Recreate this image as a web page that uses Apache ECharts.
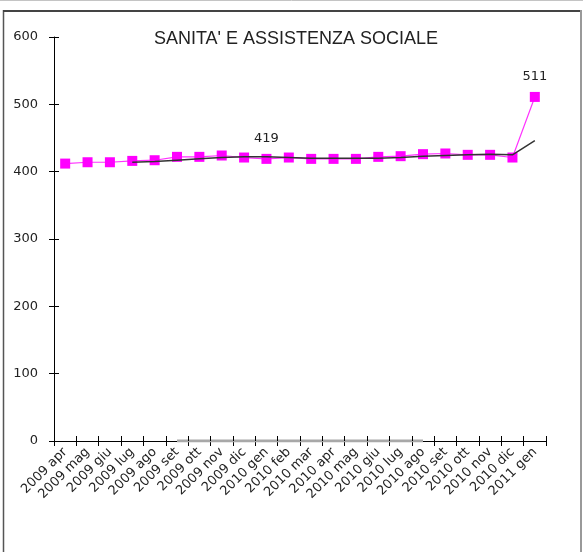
<!DOCTYPE html>
<html>
<head>
<meta charset="utf-8">
<script src="https://cdn.jsdelivr.net/npm/echarts@6/dist/echarts.min.js"></script>
<style>
html,body{margin:0;padding:0;background:#fff;}
#chart{width:583px;height:552px;}
</style>
</head>
<body>
<div id="chart"></div>
<script>
var titleText = "SANITA' E ASSISTENZA SOCIALE";
var categories = ["2009 apr","2009 mag","2009 giu","2009 lug","2009 ago","2009 set","2009 ott","2009 nov","2009 dic",
  "2010 gen","2010 feb","2010 mar","2010 apr","2010 mag","2010 giu","2010 lug","2010 ago","2010 set","2010 ott","2010 nov","2010 dic",
  "2011 gen"];
var seriesValues = [412,414,414,416,417,422,422,424,421,419,421,419,419,419,422,423,426,427,425,425,421,511];
var trendValues = [null,null,null,414,415,417,419,421,422,422,421,420,420,420,420,421,423,424,425,426,425,446];
var baseValues = [null,null,null,null,null,0,0,0,0,0,0,0,0,0,0,0,0,null,null,null,null,null];
var labeledIdx = [9,21];
var yTicks = [0,100,200,300,400,500,600];

var titleFont = "'Liberation Sans', Arial, sans-serif";
var font = "'DejaVu Sans', sans-serif";
var G = {left:54, right:37, top:37, bottom:111};
var chart = echarts.init(document.getElementById('chart'), null, {renderer:'canvas'});

var pinkData = seriesValues.map(function(v,i){
  if (labeledIdx.indexOf(i) >= 0) {
    return {value:v, label:{show:true, position:'top', distance:9, color:'#222', fontSize:13, fontFamily:font}};
  }
  return v;
});

var option = {
  animation:false,
  backgroundColor:'#fff',
  title:{
    text:titleText, left:291, top:25, textAlign:'center',
    textStyle:{fontSize:18, fontWeight:'normal', color:'#222', fontFamily:titleFont}
  },
  grid:[
    {left:G.left, right:G.right, top:G.top, bottom:G.bottom, containLabel:false},
    {left:G.left, right:G.right, top:G.top, bottom:G.bottom, containLabel:false}
  ],
  xAxis:[{
    gridIndex:0, type:'category', data:categories, boundaryGap:true, position:'bottom',
    axisLine:{show:true, onZero:false, lineStyle:{color:'#000', width:1}},
    axisTick:{show:true, inside:false, length:5, interval:0, lineStyle:{color:'#000'}},
    axisLabel:{interval:0, rotate:45, margin:9, fontSize:13, color:'#222', fontFamily:font},
    splitLine:{show:false}
  },{
    gridIndex:1, type:'category', data:categories, boundaryGap:true, position:'bottom', z:5,
    axisLine:{show:true, onZero:false, lineStyle:{color:'rgba(0,0,0,0)', width:1}},
    axisTick:{show:true, inside:true, length:5, interval:0, lineStyle:{color:'#000'}},
    axisLabel:{show:true, interval:0, rotate:45, fontSize:13, fontFamily:font, color:'rgba(0,0,0,0)'},
    splitLine:{show:false}
  }],
  yAxis:[{
    gridIndex:0, type:'value', min:yTicks[0], max:yTicks[yTicks.length-1], interval:100,
    axisLine:{show:true, onZero:false, lineStyle:{color:'#000', width:1}},
    axisTick:{show:true, inside:false, length:5, lineStyle:{color:'#000'}},
    axisLabel:{margin:16, fontSize:13, color:'#222', fontFamily:font},
    splitLine:{show:false}
  },{
    gridIndex:1, type:'value', min:yTicks[0], max:yTicks[yTicks.length-1], interval:100, position:'left', z:5,
    axisLine:{show:true, onZero:false, lineStyle:{color:'rgba(0,0,0,0)', width:1}},
    axisTick:{show:true, inside:true, length:5, lineStyle:{color:'#000'}},
    axisLabel:{show:true, margin:16, fontSize:13, fontFamily:font, color:'rgba(0,0,0,0)'},
    splitLine:{show:false}
  }],
  series:[{
    name:'base', type:'line', data:baseValues, xAxisIndex:0, yAxisIndex:0,
    symbol:'none', lineStyle:{color:'#a8a8a8', width:3}, z:1, silent:true
  },{
    name:'valori', type:'line', data:pinkData, xAxisIndex:0, yAxisIndex:0,
    symbol:'rect', symbolSize:10,
    itemStyle:{color:'#ff00ff'},
    lineStyle:{color:'#ff33ff', width:1.2},
    z:2
  },{
    name:'media', type:'line', data:trendValues, xAxisIndex:0, yAxisIndex:0,
    symbol:'none', lineStyle:{color:'#333', width:1.5}, z:3
  },{
    name:'ticks', type:'line', data:[], xAxisIndex:1, yAxisIndex:1, silent:true
  }],
  graphic:[
    {type:'line', shape:{x1:0,y1:0.5,x2:583,y2:0.5}, style:{stroke:'#c4c4c4', lineWidth:1}, z:100},
    {type:'line', shape:{x1:3.5,y1:10,x2:3.5,y2:552}, style:{stroke:'#555', lineWidth:1.5}, z:100},
    {type:'line', shape:{x1:3,y1:11,x2:582,y2:11}, style:{stroke:'#444', lineWidth:2}, z:100},
    {type:'line', shape:{x1:581,y1:10,x2:581,y2:552}, style:{stroke:'#999', lineWidth:2}, z:100}
  ]
};
chart.setOption(option);
</script>
</body>
</html>
